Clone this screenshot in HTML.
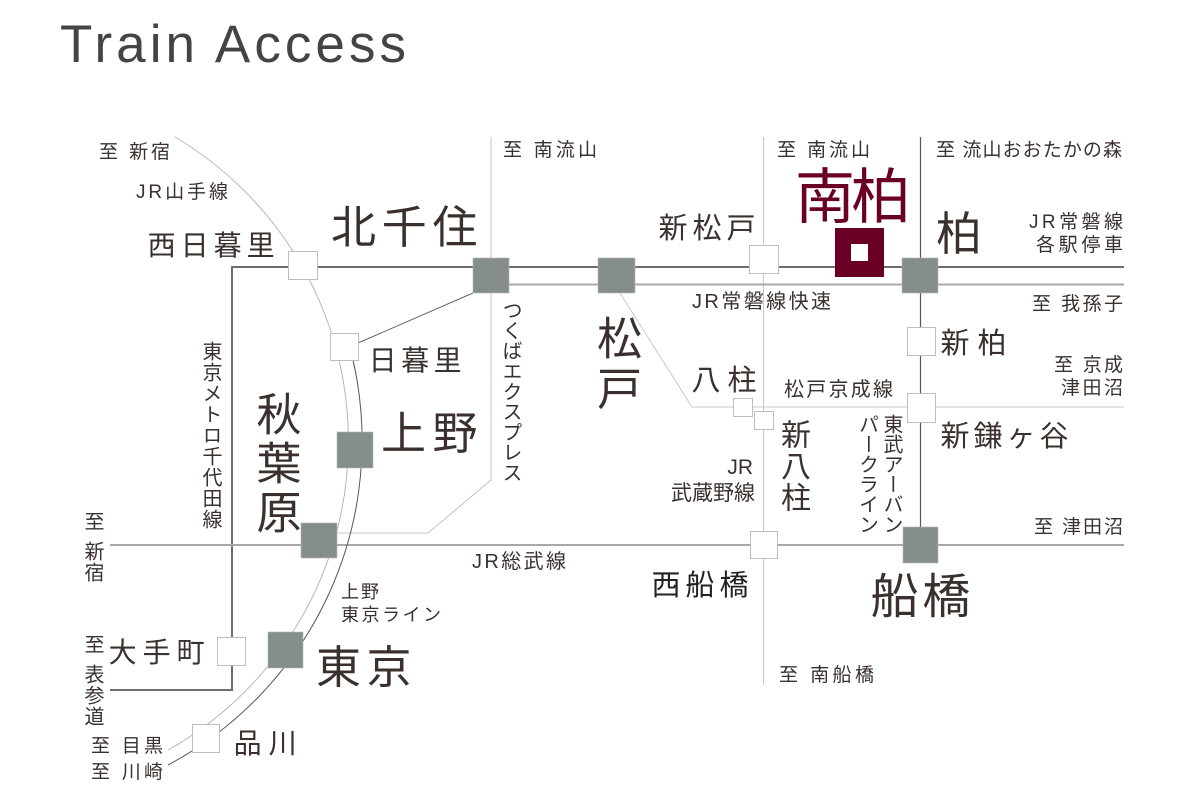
<!DOCTYPE html>
<html>
<head>
<meta charset="utf-8">
<style>
  html,body{margin:0;padding:0;background:#fff;}
  body{width:1200px;height:800px;position:relative;overflow:hidden;}
  svg{position:absolute;left:0;top:0;}
  .t{font-family:"Liberation Sans","Noto Sans CJK JP",sans-serif;fill:#3a302d;}
  .v{position:absolute;writing-mode:vertical-rl;font-family:"Liberation Sans","Noto Sans CJK JP",sans-serif;color:#3a302d;white-space:nowrap;margin:0;padding:0;}
</style>
</head>
<body>
<svg width="1200" height="800" viewBox="0 0 1200 800" xmlns="http://www.w3.org/2000/svg">
  <g fill="none">
    <polyline points="491,137 491,480 428,533 337,533" stroke="#c4c4c4" stroke-width="1"/>
    <line x1="763.5" y1="137" x2="763.5" y2="685" stroke="#c8c8c8" stroke-width="1"/>
    <polyline points="620,293 692,407 1124,407" stroke="#c8c8c8" stroke-width="1"/>
    <line x1="920.5" y1="137" x2="920.5" y2="527" stroke="#555" stroke-width="1.2"/>
    <line x1="358" y1="343" x2="473" y2="293" stroke="#666" stroke-width="1"/>
    <polyline points="110,690 232,690 232,267 1124,267" stroke="#6e6e6e" stroke-width="2"/>
    <line x1="491" y1="284.5" x2="1124" y2="284.5" stroke="#a8a8a8" stroke-width="2"/>
    <line x1="110" y1="545" x2="1124" y2="545" stroke="#a8a8a8" stroke-width="2"/>
    <path d="M175,137 A354,354 0 0 1 168,750" stroke="#b8b8b8" stroke-width="1"/>
    <path d="M353,360 A367,367 0 0 1 168,765" stroke="#555" stroke-width="1"/>
  </g>

  <g fill="#fff" stroke="#bdbdbd" stroke-width="1">
    <rect x="288.5" y="251.5" width="29" height="28"/>
    <rect x="330.5" y="333.5" width="28" height="27"/>
    <rect x="217.5" y="637.5" width="28" height="28"/>
    <rect x="192.5" y="724.5" width="27" height="28"/>
    <rect x="749.5" y="245.5" width="29" height="28"/>
    <rect x="733.5" y="398.5" width="19" height="18"/>
    <rect x="754.5" y="411.5" width="19" height="18"/>
    <rect x="750.5" y="531.5" width="27" height="27"/>
    <rect x="907.5" y="327.5" width="28" height="28"/>
    <rect x="907.5" y="393.5" width="28" height="29"/>
  </g>

  <g fill="#858e8d" stroke="#b5bab9" stroke-width="0.6">
    <rect x="473" y="258" width="36" height="35"/>
    <rect x="598" y="258" width="37" height="35"/>
    <rect x="902" y="258" width="36" height="35"/>
    <rect x="337" y="432" width="36" height="36"/>
    <rect x="301" y="523" width="36" height="35"/>
    <rect x="268" y="632" width="35" height="36"/>
    <rect x="903" y="527" width="35" height="36"/>
  </g>

  <rect x="835" y="228" width="49" height="49" fill="#6b0027"/>
  <rect x="851" y="244" width="17" height="17" fill="#fff"/>

  <text x="60" y="62" font-size="53" textLength="346" lengthAdjust="spacing" style="font-family:'Liberation Sans',sans-serif;fill:#444;">Train Access</text>

  <text class="t" x="99" y="158" font-size="19" textLength="71" lengthAdjust="spacing">至 新宿</text>
  <text class="t" x="136" y="198" font-size="19" textLength="92" lengthAdjust="spacing">JR山手線</text>
  <text class="t" x="147.6" y="255" font-size="28" textLength="127" lengthAdjust="spacing">西日暮里</text>
  <text class="t" x="331" y="243" font-size="45" textLength="146.5" lengthAdjust="spacing">北千住</text>
  <text class="t" x="368.6" y="370" font-size="28" textLength="93" lengthAdjust="spacing">日暮里</text>
  <text class="t" x="381" y="449" font-size="45" textLength="96.5" lengthAdjust="spacing">上野</text>
  <text class="t" x="341" y="598" font-size="18" letter-spacing="2">上野</text>
  <text class="t" x="341" y="621" font-size="18" textLength="100" lengthAdjust="spacing">東京ライン</text>
  <text class="t" x="316" y="683" font-size="45" textLength="95.5" lengthAdjust="spacing">東京</text>
  <text class="t" x="233.6" y="753" font-size="28" textLength="63" lengthAdjust="spacing">品川</text>
  <text class="t" x="108.6" y="662" font-size="28" textLength="96" lengthAdjust="spacing">大手町</text>
  <text class="t" x="91" y="752" font-size="19" textLength="72" lengthAdjust="spacing">至 目黒</text>
  <text class="t" x="91" y="778" font-size="19" textLength="72" lengthAdjust="spacing">至 川崎</text>

  <text class="t" x="503" y="156" font-size="19" textLength="94" lengthAdjust="spacing">至 南流山</text>
  <text class="t" x="777" y="156" font-size="19" textLength="93" lengthAdjust="spacing">至 南流山</text>
  <text x="795" y="218" font-size="60" textLength="116" lengthAdjust="spacing" style="font-family:'Liberation Sans','Noto Sans CJK JP',sans-serif;fill:#6b0027;">南柏</text>
  <text class="t" x="658.5" y="238" font-size="29" textLength="97" lengthAdjust="spacing">新松戸</text>
  <text class="t" x="692" y="308" font-size="20" textLength="139" lengthAdjust="spacing">JR常磐線快速</text>
  <text class="t" x="691.5" y="390" font-size="29" textLength="65" lengthAdjust="spacing">八柱</text>
  <text class="t" x="784" y="396" font-size="20" textLength="109" lengthAdjust="spacing">松戸京成線</text>
  <text class="t" x="472" y="568" font-size="20" textLength="94" lengthAdjust="spacing">JR総武線</text>

  <text class="t" x="936" y="156" font-size="19" textLength="186" lengthAdjust="spacing">至 流山おおたかの森</text>
  <text class="t" x="936" y="250" font-size="46">柏</text>
  <text class="t" x="1029" y="228" font-size="19" textLength="94" lengthAdjust="spacing">JR常磐線</text>
  <text class="t" x="1036" y="251" font-size="19" textLength="87" lengthAdjust="spacing">各駅停車</text>
  <text class="t" x="1032" y="310" font-size="19" textLength="91" lengthAdjust="spacing">至 我孫子</text>
  <text class="t" x="940.5" y="353" font-size="29" textLength="66" lengthAdjust="spacing">新柏</text>
  <text class="t" x="1054" y="371" font-size="19" textLength="69" lengthAdjust="spacing">至 京成</text>
  <text class="t" x="1061" y="394" font-size="19" textLength="62" lengthAdjust="spacing">津田沼</text>
  <text class="t" x="940.5" y="446" font-size="29" textLength="128" lengthAdjust="spacing">新鎌ヶ谷</text>

  <text class="t" x="753" y="474" font-size="21" text-anchor="end">JR</text>
  <text class="t" x="671" y="500" font-size="21" textLength="84" lengthAdjust="spacing">武蔵野線</text>
  <text class="t" x="651.5" y="595" font-size="29" textLength="97" lengthAdjust="spacing" style="fill:#222;">西船橋</text>
  <text class="t" x="870.6" y="613" font-size="48" textLength="99.8" lengthAdjust="spacing">船橋</text>
  <text class="t" x="1034" y="533" font-size="19" textLength="89" lengthAdjust="spacing">至 津田沼</text>
  <text class="t" x="779" y="681" font-size="19" textLength="95" lengthAdjust="spacing">至 南船橋</text>
</svg>

<div class="v" style="left:200px;top:341px;font-size:20px;line-height:20px;letter-spacing:1px;">東京メトロ千代田線</div>
<div class="v" style="left:252.5px;top:391px;font-size:45px;line-height:45px;letter-spacing:4px;">秋葉原</div>
<div class="v" style="left:593px;top:315px;font-size:45px;line-height:45px;letter-spacing:5.5px;">松戸</div>
<div class="v" style="left:500px;top:300px;font-size:20px;line-height:20px;letter-spacing:0.3px;">つくばエクスプレス</div>
<div class="v" style="left:777px;top:418.5px;font-size:30px;line-height:30px;letter-spacing:1.5px;">新八柱</div>
<div class="v" style="left:854px;top:414px;font-size:20px;line-height:24.5px;letter-spacing:0px;">東武アーバン<br>パークライン</div>
<div class="v" style="left:82px;top:511px;font-size:20px;line-height:20px;">至</div>
<div class="v" style="left:82px;top:541px;font-size:20px;line-height:20px;letter-spacing:1px;">新宿</div>
<div class="v" style="left:82px;top:634px;font-size:20px;line-height:20px;">至</div>
<div class="v" style="left:82px;top:664px;font-size:20px;line-height:20px;letter-spacing:1px;">表参道</div>
</body>
</html>
